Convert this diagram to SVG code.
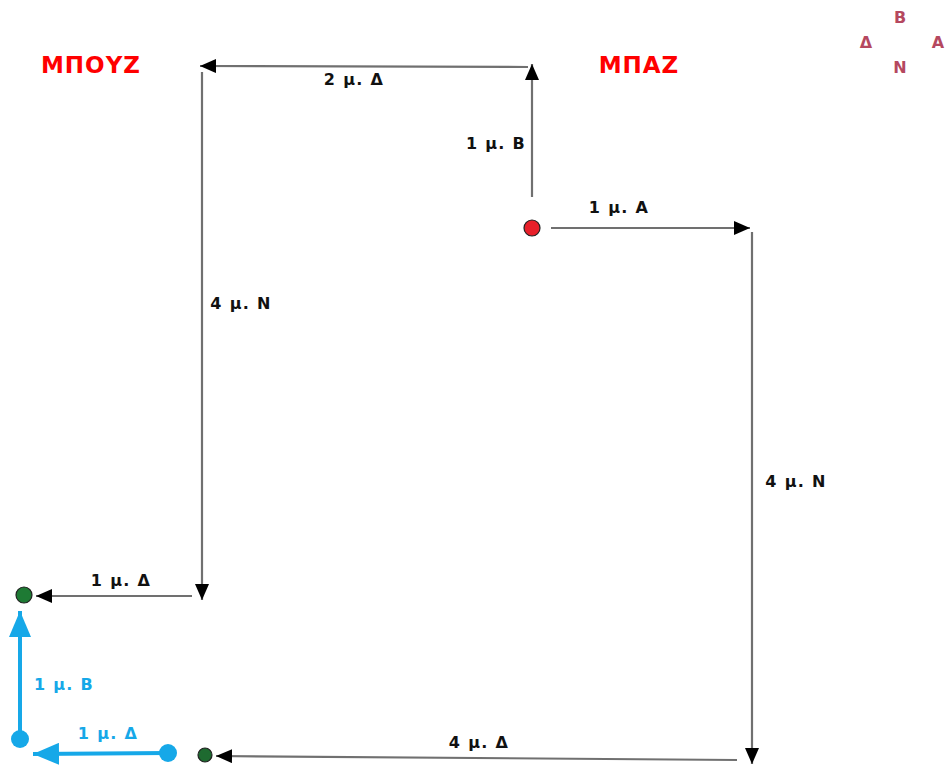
<svg xmlns="http://www.w3.org/2000/svg" width="949" height="770" viewBox="0 0 949 770">
<style>
.ln{stroke:#707070;stroke-width:2.2;fill:none}
.bl{stroke:#16a8e8;stroke-width:4;fill:none}
.t{font-family:"DejaVu Sans",Verdana,sans-serif;font-weight:bold;font-size:16px;letter-spacing:1.3px;fill:#111}
.tb{font-family:"DejaVu Sans",Verdana,sans-serif;font-weight:bold;font-size:16px;letter-spacing:1.3px;fill:#16a8e8}
.ti{font-family:"DejaVu Sans",Verdana,sans-serif;font-weight:bold;font-size:23px;letter-spacing:1px;fill:#ff0000}
.c{font-family:"DejaVu Sans",Verdana,sans-serif;font-weight:bold;font-size:16px;fill:#b5485f}
</style>
<defs>
<marker id="ah" viewBox="0 0 16 14" refX="16" refY="7" markerWidth="16" markerHeight="14" markerUnits="userSpaceOnUse" orient="auto"><path d="M0,0 L16,7 L0,14 z" fill="#000"/></marker>
<marker id="ab" viewBox="0 0 26 22" refX="26" refY="11" markerWidth="26" markerHeight="22" markerUnits="userSpaceOnUse" orient="auto"><path d="M0,0 L26,11 L0,22 z" fill="#16a8e8"/></marker>
</defs>
<g id="title-mpouz"><text class="ti" x="91" y="73" text-anchor="middle">ΜΠΟΥΖ</text></g>
<g id="title-mpaz"><text class="ti" x="639" y="73" text-anchor="middle">ΜΠΑΖ</text></g>
<g id="compass">
<text class="c" x="900" y="23" text-anchor="middle">Β</text>
<text class="c" x="866" y="48" text-anchor="middle">Δ</text>
<text class="c" x="938" y="48" text-anchor="middle">Α</text>
<text class="c" x="900" y="73" text-anchor="middle">Ν</text>
</g>
<g id="connectors">
<line class="ln" x1="532" y1="197" x2="532" y2="64" marker-end="url(#ah)"/>
<line class="ln" x1="528" y1="67" x2="200" y2="66" marker-end="url(#ah)"/>
<line class="ln" x1="202" y1="72" x2="202" y2="600" marker-end="url(#ah)"/>
<line class="ln" x1="192" y1="596" x2="36" y2="596" marker-end="url(#ah)"/>
<line class="ln" x1="551" y1="228" x2="750" y2="228" marker-end="url(#ah)"/>
<line class="ln" x1="752" y1="232" x2="752" y2="764" marker-end="url(#ah)"/>
<line class="ln" x1="737" y1="760" x2="216" y2="756" marker-end="url(#ah)"/>
<line class="bl" x1="168" y1="753" x2="33" y2="754" marker-end="url(#ab)"/>
<line class="bl" x1="20" y1="739" x2="20" y2="611" marker-end="url(#ab)"/>
</g>
<g id="labels">
<text class="t" x="354" y="85" text-anchor="middle">2 μ. Δ</text>
<text class="t" x="496" y="149" text-anchor="middle">1 μ. Β</text>
<text class="t" x="619" y="213" text-anchor="middle">1 μ. Α</text>
<text class="t" x="241" y="309" text-anchor="middle">4 μ. Ν</text>
<text class="t" x="796" y="487" text-anchor="middle">4 μ. Ν</text>
<text class="t" x="121" y="586" text-anchor="middle">1 μ. Δ</text>
<text class="t" x="479" y="748" text-anchor="middle">4 μ. Δ</text>
<text class="tb" x="64" y="690" text-anchor="middle">1 μ. Β</text>
<text class="tb" x="108" y="739" text-anchor="middle">1 μ. Δ</text>
</g>
<g id="start"><circle cx="532" cy="228" r="8" fill="#e8202a" stroke="#222" stroke-width="1.2"/></g>
<g id="end1"><circle cx="24" cy="595" r="8" fill="#1e7a34" stroke="#222" stroke-width="1.2"/></g>
<g id="end2"><circle cx="205" cy="755" r="7" fill="#1e6a30" stroke="#222" stroke-width="1.2"/></g>
<g id="blue1"><circle cx="168" cy="753" r="9" fill="#16a8e8"/></g>
<g id="blue2"><circle cx="20" cy="739" r="9" fill="#16a8e8"/></g>
</svg>
